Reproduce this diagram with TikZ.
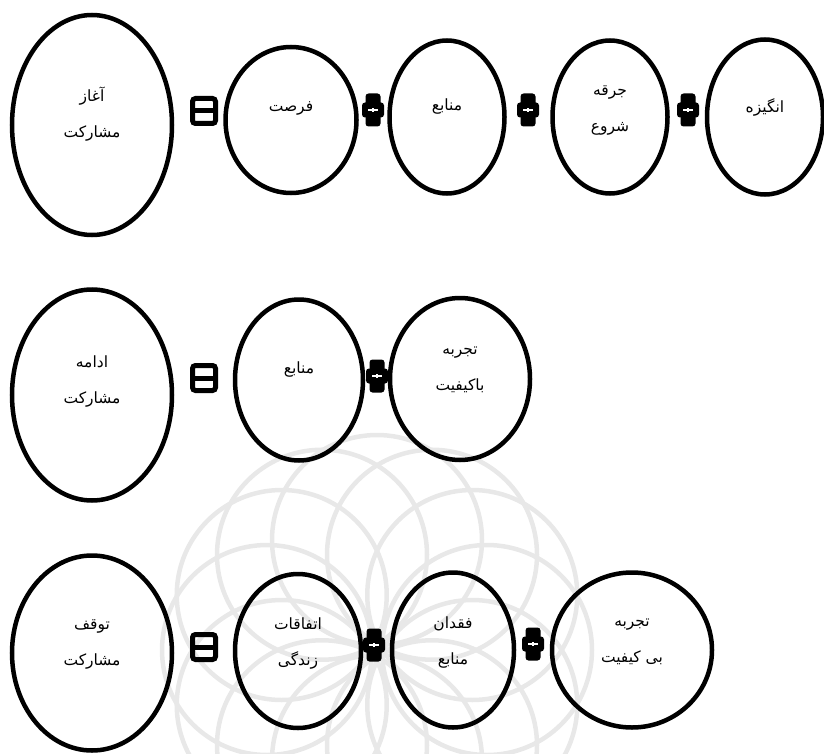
\documentclass[tikz,border=0pt]{standalone}
\usepackage{fontspec}
\newfontfamily\arabicfont[Script=Arabic]{DejaVu Sans}
\TeXXeTstate=1
\usetikzlibrary{shapes.geometric}

\begin{document}
\begin{tikzpicture}[x=1pt, y=-1pt,
        oval/.style={ellipse, draw=black, line width=4.5pt, inner sep=0pt},
        words/.style={font=\arabicfont\fontsize{15.5}{36}\selectfont, align=center, inner sep=0pt},
        addsign/.style={rectangle, inner sep=0pt, minimum width=22pt, minimum height=33pt,
            path picture={
                \fill[rounded corners=3pt] ([xshift=-7.5pt,yshift=-16.5pt]path picture bounding box.center) rectangle ([xshift=7.5pt,yshift=16.5pt]path picture bounding box.center);
                \fill[rounded corners=3pt] ([xshift=-11pt,yshift=-7.5pt]path picture bounding box.center) rectangle ([xshift=11pt,yshift=7.5pt]path picture bounding box.center);
                \draw[white, line width=1.4pt] ([xshift=-5pt]path picture bounding box.center) -- ([xshift=5pt]path picture bounding box.center);
                \draw[white, line width=1.2pt] ([yshift=-2pt]path picture bounding box.center) -- ([yshift=2pt]path picture bounding box.center);
            }},
        eqsign/.style={rectangle, inner sep=0pt, minimum width=28pt, minimum height=30pt,
            path picture={
                \draw[line width=5pt, rounded corners=3pt] ([xshift=-11.5pt,yshift=-12.5pt]path picture bounding box.center) rectangle ([xshift=11.5pt,yshift=12.5pt]path picture bounding box.center);
                \draw[line width=5pt] ([xshift=-12pt]path picture bounding box.center) -- ([xshift=12pt]path picture bounding box.center);
            }},
        watermark/.style={black!9, line width=4.5pt}
      ]
        \useasboundingbox (0,0) rectangle (824,754);
        \clip (0,0) rectangle (824,754);

        % faint rosette behind the lower rows
        \begin{scope}[shift={(377,650)}]
            \foreach \a in {0,30,...,330}
                \draw[watermark] (\a:110) circle (105);
        \end{scope}

        % start of participation
        \node[oval, minimum width=160pt, minimum height=220pt]  (start)   at (92,125)   {};
        \node[eqsign]                                           (eq1)     at (204,111)  {};
        \node[oval, minimum width=131pt, minimum height=146pt]  (chance)  at (291,120)  {};
        \node[addsign]                                          (add1)    at (373,110)  {};
        \node[oval, minimum width=115pt, minimum height=153pt]  (means1)  at (447,117)  {};
        \node[addsign]                                          (add2)    at (528,110)  {};
        \node[oval, minimum width=115pt, minimum height=153pt]  (spark)   at (610,117)  {};
        \node[addsign]                                          (add3)    at (688,110)  {};
        \node[oval, minimum width=116pt, minimum height=155pt]  (motive)  at (765,117)  {};

        \node[words] at ([yshift=11pt]start.center)   {\beginR آغاز\endR\\\beginR مشارکت\endR};
        \node[words] at ([yshift=12pt]chance.center)  {\beginR فرصت\endR};
        \node[words] at ([yshift=10pt]means1.center)  {\beginR منابع\endR};
        \node[words] at ([yshift=7pt]spark.center)    {\beginR جرقه\endR\\\beginR شروع\endR};
        \node[words] at ([yshift=10pt]motive.center)  {\beginR انگیزه\endR};

        % continuing participation
        \node[oval, minimum width=160pt, minimum height=211pt]  (cont)    at (92,395)   {};
        \node[eqsign]                                           (eq2)     at (204,378)  {};
        \node[oval, minimum width=128pt, minimum height=161pt]  (means2)  at (299,380)  {};
        \node[addsign]                                          (add4)    at (377,376)  {};
        \node[oval, minimum width=140pt, minimum height=162pt]  (goodExp) at (460,379)  {};

        \node[words] at ([yshift=13pt]cont.center)    {\beginR ادامه\endR\\\beginR مشارکت\endR};
        \node[words] at ([yshift=10pt]means2.center)  {\beginR منابع\endR};
        \node[words] at ([yshift=9pt]goodExp.center)  {\beginR تجربه\endR\\\beginR باکیفیت\endR};

        % stopping participation
        \node[oval, minimum width=160pt, minimum height=195pt]  (stop)    at (92,653)   {};
        \node[eqsign]                                           (eq3)     at (204,647)  {};
        \node[oval, minimum width=126pt, minimum height=154pt]  (events)  at (298,651)  {};
        \node[addsign]                                          (add5)    at (374,645)  {};
        \node[oval, minimum width=122pt, minimum height=155pt]  (loss)    at (453,650)  {};
        \node[addsign]                                          (add6)    at (533,644)  {};
        \node[oval, minimum width=160pt, minimum height=155pt]  (badExp)  at (632,650)  {};

        \node[words] at ([yshift=9pt]stop.center)     {\beginR توقف\endR\\\beginR مشارکت\endR};
        \node[words] at ([yshift=8pt]events.center)   {\beginR اتفاقات\endR\\\beginR زندگی\endR};
        \node[words] at ([yshift=8pt]loss.center)     {\beginR فقدان\endR\\\beginR منابع\endR};
        \node[words] at ([yshift=8pt]badExp.center)   {\beginR تجربه\endR\\\beginR بی کیفیت\endR};
      \end{tikzpicture}
\end{document}
